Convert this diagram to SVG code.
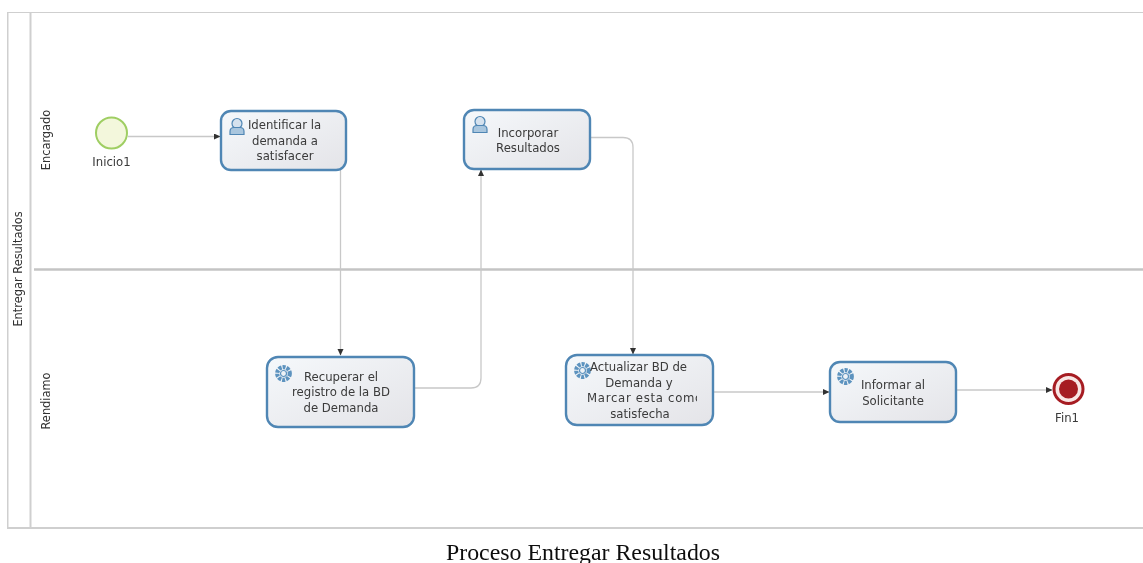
<svg xmlns="http://www.w3.org/2000/svg" width="1143" height="563" viewBox="0 0 1143 563">
<style>
.pool{fill:none;stroke:#cfcfcf;stroke-width:2}
.div{fill:none;stroke:#c4c4c4;stroke-width:2.5}
.task{fill:url(#tg);stroke:#4f86b4;stroke-width:2.4}
.conn{fill:none;stroke:#c8c8c8;stroke-width:1.3}
.t{font-family:"DejaVu Sans",sans-serif;font-size:11.7px;fill:#3a3a3a;text-anchor:middle}
.lane{font-family:"DejaVu Sans",sans-serif;font-size:11.4px;fill:#333;text-anchor:middle}
.ic{fill:#a9c6de;stroke:#4f86b4;stroke-width:1.2}
</style>
<defs>
<filter id="soft" x="0" y="0" width="100%" height="100%"><feGaussianBlur stdDeviation="0.4"/></filter>
<clipPath id="cut"><rect x="580" y="390" width="117" height="16"/></clipPath>
<linearGradient id="tg" x1="0" y1="0" x2="1" y2="1"><stop offset="0" stop-color="#f5f8fb"/><stop offset="1" stop-color="#e4e4e8"/></linearGradient>
<marker id="a" markerWidth="7" markerHeight="7" refX="6" refY="3" orient="auto" markerUnits="userSpaceOnUse"><path d="M0 0L6.500 3L0 6z" fill="#333"/></marker>
<g id="user"><circle cx="8" cy="5.500" r="5" class="ic" fill-opacity=".4"/><path d="M1 16.500v-3q0-4 4-4h6q4 0 4 4v3z" class="ic"/></g>
<g id="gear"><circle cx="8.500" cy="8.500" r="6.300" fill="none" stroke="#5d93bf" stroke-width="4.200" stroke-dasharray="3 1"/><circle cx="8.500" cy="8.500" r="3" fill="#eef2f6" stroke="#5d93bf" stroke-width="1.200"/></g>
</defs>
<g filter="url(#soft)">
<g id="pool">
<path class="pool" d="M7.500 12H1143M7.500 12V528H1143M30.500 12V528"/>
<path class="div" d="M34 269.500H1143"/>
<text class="lane" transform="translate(22 269) rotate(-90)">Entregar Resultados</text>
<text class="lane" transform="translate(50 140) rotate(-90)">Encargado</text>
<text class="lane" transform="translate(50 401) rotate(-90)">Rendiamo</text>
</g>
<g id="connectors">
<path class="conn" marker-end="url(#a)" d="M128 136.500H220"/>
<path class="conn" marker-end="url(#a)" d="M340.500 170V355"/>
<path class="conn" marker-end="url(#a)" d="M415 388H471q10 0 10-10V170"/>
<path class="conn" marker-end="url(#a)" d="M591 137.500H623q10 0 10 10V354"/>
<path class="conn" marker-end="url(#a)" d="M714 392H829"/>
<path class="conn" marker-end="url(#a)" d="M957 390H1052"/>
</g>
<g id="inicio1"><circle cx="111.500" cy="133" r="15.500" fill="#f3f7dc" stroke="#9fce63" stroke-width="2"/><text class="t" x="111.500" y="166">Inicio1</text></g>
<g id="identificar"><rect class="task" x="221" y="111" width="125" height="59" rx="10"/><use href="#user" x="229" y="118"/><text class="t" x="284.500" y="129">Identificar la</text><text class="t" x="285" y="145">demanda a</text><text class="t" x="285" y="160">satisfacer</text></g>
<g id="incorporar"><rect class="task" x="464" y="110" width="126" height="59" rx="10"/><use href="#user" x="472" y="116"/><text class="t" x="528" y="137">Incorporar</text><text class="t" x="528" y="152">Resultados</text></g>
<g id="recuperar"><rect class="task" x="267" y="357" width="147" height="70" rx="11"/><use href="#gear" x="275" y="365"/><text class="t" x="341" y="381">Recuperar el</text><text class="t" x="341" y="396">registro de la BD</text><text class="t" x="341" y="412">de Demanda</text></g>
<g id="actualizar"><rect class="task" x="566" y="355" width="147" height="70" rx="11"/><use href="#gear" x="574" y="362"/><text class="t" x="638.500" y="371">Actualizar BD de</text><text class="t" x="639" y="387">Demanda y</text><text class="t" x="587" y="402" style="text-anchor:start;letter-spacing:.7px" clip-path="url(#cut)">Marcar esta como</text><text class="t" x="640" y="418">satisfecha</text></g>
<g id="informar"><rect class="task" x="830" y="362" width="126" height="60" rx="10"/><use href="#gear" x="837" y="368"/><text class="t" x="893" y="389">Informar al</text><text class="t" x="893" y="405">Solicitante</text></g>
<g id="fin1"><circle cx="1068.500" cy="389" r="14.500" fill="#f9e6e4" stroke="#a61d24" stroke-width="3"/><circle cx="1068.500" cy="389" r="9.500" fill="#a61d24"/><text class="t" x="1067" y="422">Fin1</text></g>
<text id="caption" x="583" y="560" font-family="'Liberation Serif',serif" font-size="24" fill="#111" text-anchor="middle" textLength="274" lengthAdjust="spacingAndGlyphs">Proceso Entregar Resultados</text>
</g>
</svg>
